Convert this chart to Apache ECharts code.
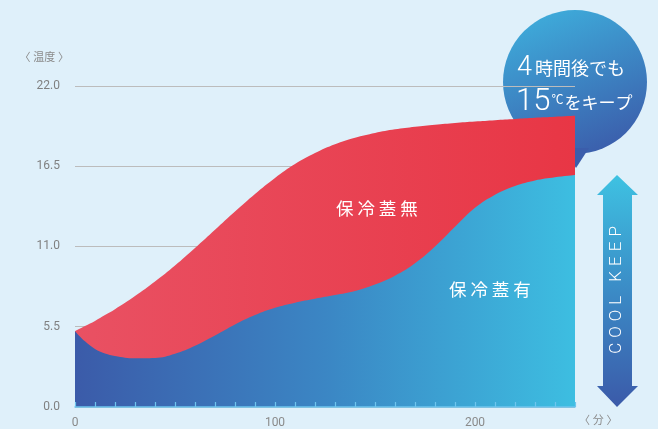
<!DOCTYPE html>
<html>
<head>
<meta charset="utf-8">
<script src="https://cdn.jsdelivr.net/npm/echarts@6/dist/echarts.min.js"></script>
<style>
html,body{margin:0;padding:0;background:#dff0fa;}
#c{width:658px;height:429px;}
</style>
</head>
<body>
<div id="c"></div>
<script>
// elapsed minutes
var minutes = [0,5,10,15,20,30,40,50,60,70,80,90,100,110,120,130,140,150,160,170,180,190,200,210,220,230,240,250];
// 保冷蓋無 (without cold-keeping lid), °C
var withoutLid = [5.2,5.55,5.9,6.3,6.7,7.6,8.6,9.7,10.9,12.15,13.4,14.6,15.7,16.65,17.4,18.0,18.45,18.78,19.03,19.21,19.35,19.47,19.57,19.66,19.74,19.82,19.89,19.96];
// 保冷蓋有 (with cold-keeping lid), °C
var withLid = [5.2,4.5,3.98,3.67,3.5,3.34,3.36,3.65,4.2,4.9,5.65,6.3,6.8,7.15,7.42,7.67,7.95,8.4,9.0,9.85,11.0,12.35,13.65,14.55,15.15,15.53,15.75,15.9];
var yTicks = [0, 5.5, 11, 16.5, 22];
var xLabels = [0, 100, 200];
var seriesNames = ['保冷蓋無', '保冷蓋有'];

function pairs(v){ return minutes.map(function(m,i){ return [m, v[i]]; }); }

var chart = echarts.init(document.getElementById('c'));
var font = 'Roboto, "Noto Sans CJK JP", sans-serif';
chart.setOption({
  backgroundColor: '#dff0fa',
  animation: false,
  grid: {left: 75, right: 83, top: 86, bottom: 22},
  xAxis: {
    type: 'value', min: 0, max: 250, interval: 10, z: 10,
    name: '〈 分 〉', nameLocation: 'end', nameGap: 4,
    nameTextStyle: {color: '#8a8a8a', fontSize: 11, fontFamily: font, verticalAlign: 'top', padding: [9,0,0,0]},
    axisLine: {show: true, lineStyle: {color: '#6ec5ee', width: 1.5}},
    axisTick: {show: true, inside: true, length: 5, lineStyle: {color: '#6ec5ee', width: 1.2}},
    axisLabel: {
      color: '#8a8a8a', fontSize: 12, fontFamily: font, margin: 10,
      formatter: function(v){ return xLabels.indexOf(v) >= 0 ? String(v) : ''; }
    },
    splitLine: {show: false}
  },
  yAxis: {
    type: 'value', min: yTicks[0], max: yTicks[yTicks.length-1], interval: yTicks[1],
    name: '〈 温度 〉', nameLocation: 'end', nameGap: 22,
    nameTextStyle: {color: '#8a8a8a', fontSize: 11, fontFamily: font, align: 'right', padding: [0, 6, 0, 0]},
    axisLine: {show: false}, axisTick: {show: false},
    axisLabel: {color: '#808080', fontSize: 12, fontFamily: font, margin: 15,
      formatter: function(v){ return v.toFixed(1); }},
    splitLine: {show: true, lineStyle: {color: '#bcbcbc', width: 1.2}}
  },
  series: [
    {
      name: seriesNames[0], type: 'line', smooth: 0.4, symbol: 'none',
      data: pairs(withoutLid),
      lineStyle: {width: 0},
      areaStyle: {opacity: 1, color: new echarts.graphic.LinearGradient(0,0,1,0,[
        {offset: 0, color: '#e95163'}, {offset: 1, color: '#e83645'}])}
    },
    {
      name: seriesNames[1], type: 'line', smooth: 0.4, symbol: 'none',
      data: pairs(withLid),
      lineStyle: {width: 0},
      areaStyle: {opacity: 1, color: new echarts.graphic.LinearGradient(0,0,1,0,[
        {offset: 0, color: '#3b5ba9'}, {offset: 0.5, color: '#3b86c4'}, {offset: 1, color: '#3dbee1'}])}
    }
  ],
  graphic: [
    {type: 'text', left: 336, top: 200, z: 100,
      style: {text: '保 冷 蓋 無', fill: '#fff', font: '17.5px "Noto Sans CJK JP"'}},
    {type: 'text', left: 449, top: 281, z: 100,
      style: {text: '保 冷 蓋 有', fill: '#fff', font: '17.5px "Noto Sans CJK JP"'}},
    // bubble
    {type: 'group', z: 100, children: [
      {type: 'circle', shape: {cx: 575, cy: 82, r: 72},
        style: {fill: new echarts.graphic.LinearGradient(0.3,0,0.7,1,[
          {offset: 0, color: '#3eabda'}, {offset: 1, color: '#3b5dab'}])}},
      {type: 'polygon', shape: {points: [[563,148],[589,148],[576,168]]},
        style: {fill: '#3b5dab'}},
      {type: 'text', x: 517, y: 55,
        style: {rich: {
          big: {fontSize: 27, fontFamily: 'Roboto, sans-serif', fill: '#fff', fontWeight: 300},
          sm: {fontSize: 18, fontFamily: '"Noto Sans CJK JP"', fill: '#fff', padding: [0,0,0,3]}
        }, text: '{big|4}{sm|時間後でも}', fill: '#fff'}},
      {type: 'text', x: 516, y: 87,
        style: {rich: {
          big: {fontSize: 31, fontFamily: 'Roboto, sans-serif', fill: '#fff', fontWeight: 300},
          deg: {fontSize: 12, fontFamily: '"Noto Sans CJK JP"', fill: '#fff', padding: [0,1,6,1]},
          sm: {fontSize: 17, fontFamily: '"Noto Sans CJK JP"', fill: '#fff'}
        }, text: '{big|15}{deg|℃}{sm|をキープ}', fill: '#fff'}}
    ]},
    // COOL KEEP arrow
    {type: 'group', z: 100, children: [
      {type: 'polygon', shape: {points: [[617,175],[638,195],[632,195],[632,386],[638,386],[617,407],[597,386],[603,386],[603,195],[597,195]]},
        style: {fill: new echarts.graphic.LinearGradient(0,0,0,1,[
          {offset: 0, color: '#3ec2e2'}, {offset: 0.5, color: '#3b8bc6'}, {offset: 1, color: '#3b5aa9'}])}},
      {type: 'text', x: 617, y: 290, rotation: Math.PI/2,
        style: {
          rich: {
            a: {fontSize: 17, fontFamily: 'Roboto', fontWeight: 300, fill: '#fff', padding: [0,5,0,0]},
            b: {fontSize: 17, fontFamily: 'Roboto', fontWeight: 300, fill: '#fff'}
          },
          text: '{a|C}{a|O}{a|O}{a|L}{a| }{a|K}{a|E}{a|E}{b|P}',
          align: 'center', verticalAlign: 'middle'}}
    ]}
  ]
});
</script>
</body>
</html>
